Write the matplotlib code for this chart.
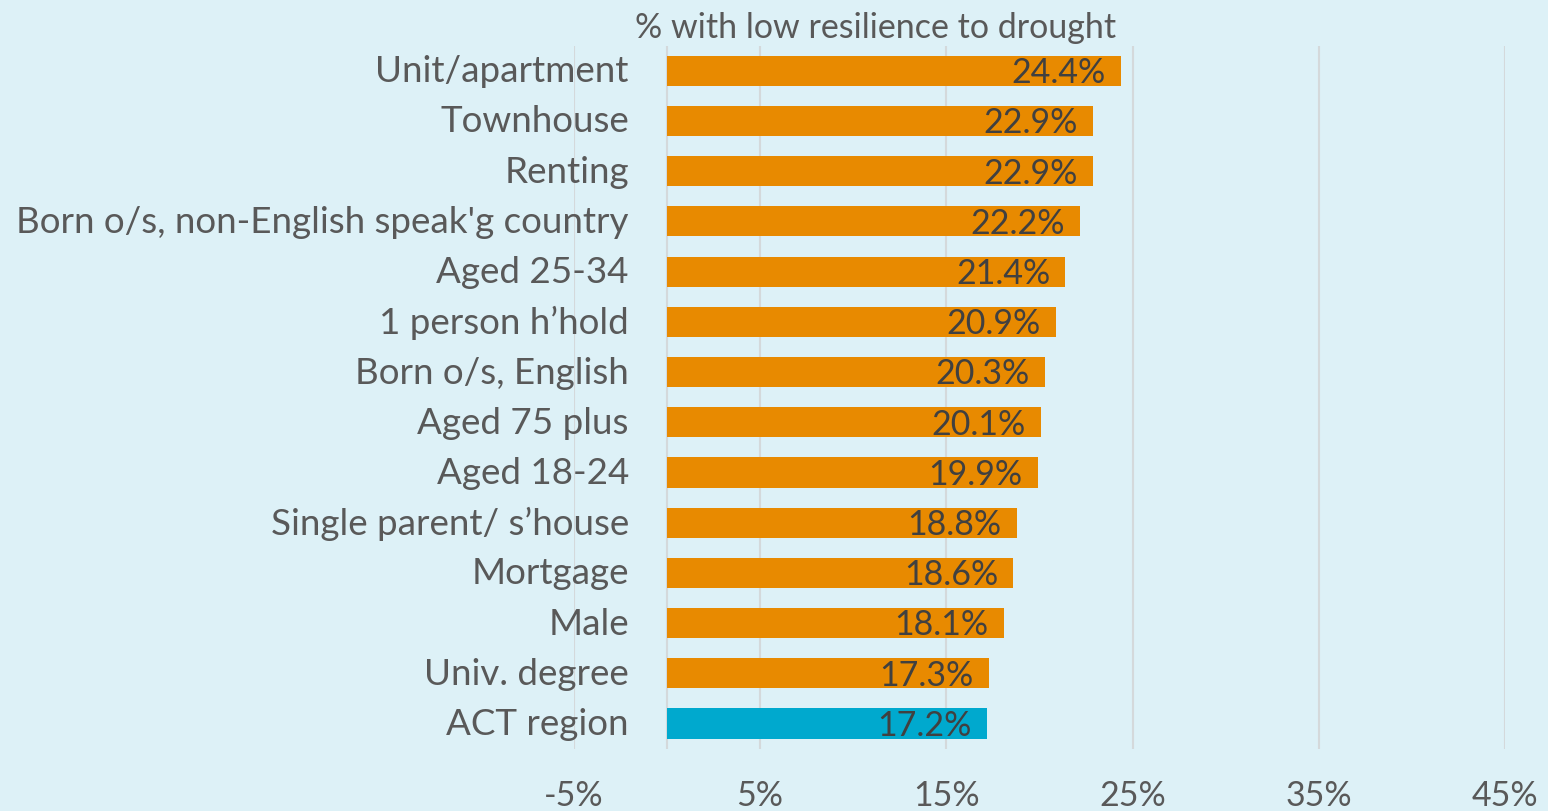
import matplotlib.pyplot as plt
from matplotlib.ticker import FuncFormatter

# categories, top to bottom
groups = ["Unit/apartment", "Townhouse", "Renting",
          "Born o/s, non-English speak'g country", "Aged 25-34",
          "1 person h\u2019hold", "Born o/s, English", "Aged 75 plus",
          "Aged 18-24", "Single parent/ s\u2019house", "Mortgage", "Male",
          "Univ. degree", "ACT region"]
low_resilience = [24.4, 22.9, 22.9, 22.2, 21.4, 20.9, 20.3, 20.1,
                  19.9, 18.8, 18.6, 18.1, 17.3, 17.2]
x_ticks = [-5, 5, 15, 25, 35, 45]

bg = "#DDF1F7"
orange = "#E88A00"
blue = "#00A9CE"
label_grey = "#595959"
value_grey = "#404040"

plt.rcParams["font.family"] = ["Lato", "DejaVu Sans"]

fig = plt.figure(figsize=(15.48, 8.12), dpi=100, facecolor=bg)
ax = fig.add_axes([0.3707, 0.0768, 0.6015, 0.8658])
ax.set_facecolor(bg)

ypos = list(range(len(groups)))
colors = [blue if g == "ACT region" else orange for g in groups]
ax.barh(ypos, low_resilience, height=0.6, color=colors, zorder=3)

ax.set_xlim(-5, 45)
ax.set_ylim(len(groups) - 0.5, -0.5)
ax.set_xticks(x_ticks)
ax.xaxis.set_major_formatter(FuncFormatter(lambda v, p: f"{v:.0f}%"))
ax.tick_params(axis="x", length=0, pad=22, labelsize=24.5, labelcolor=label_grey)
ax.set_yticks([])
ax.grid(axis="x", color="#D4D9DB", linewidth=1.5, zorder=0)
ax.axvline(0, color="#D4D9DB", linewidth=1.5, zorder=1)
for s in ax.spines.values():
    s.set_visible(False)

# category names sit just left of the zero line
for y, g in zip(ypos, groups):
    ax.annotate(g, xy=(0, y), xytext=(-27.5, 0), textcoords="offset points",
                ha="right", va="center", fontsize=26.5, color=label_grey)

# value labels inside the bar end
for y, v in zip(ypos, low_resilience):
    ax.annotate(f"{v:.1f}%", xy=(v, y), xytext=(-11, -1), textcoords="offset points",
                ha="right", va="center", fontsize=24.5, color=value_grey, zorder=4)

fig.text(0.5655, 0.965, "% with low resilience to drought", ha="center", va="center",
         fontsize=24.5, color=label_grey)

fig.savefig("out.png", dpi=100, facecolor=bg)
